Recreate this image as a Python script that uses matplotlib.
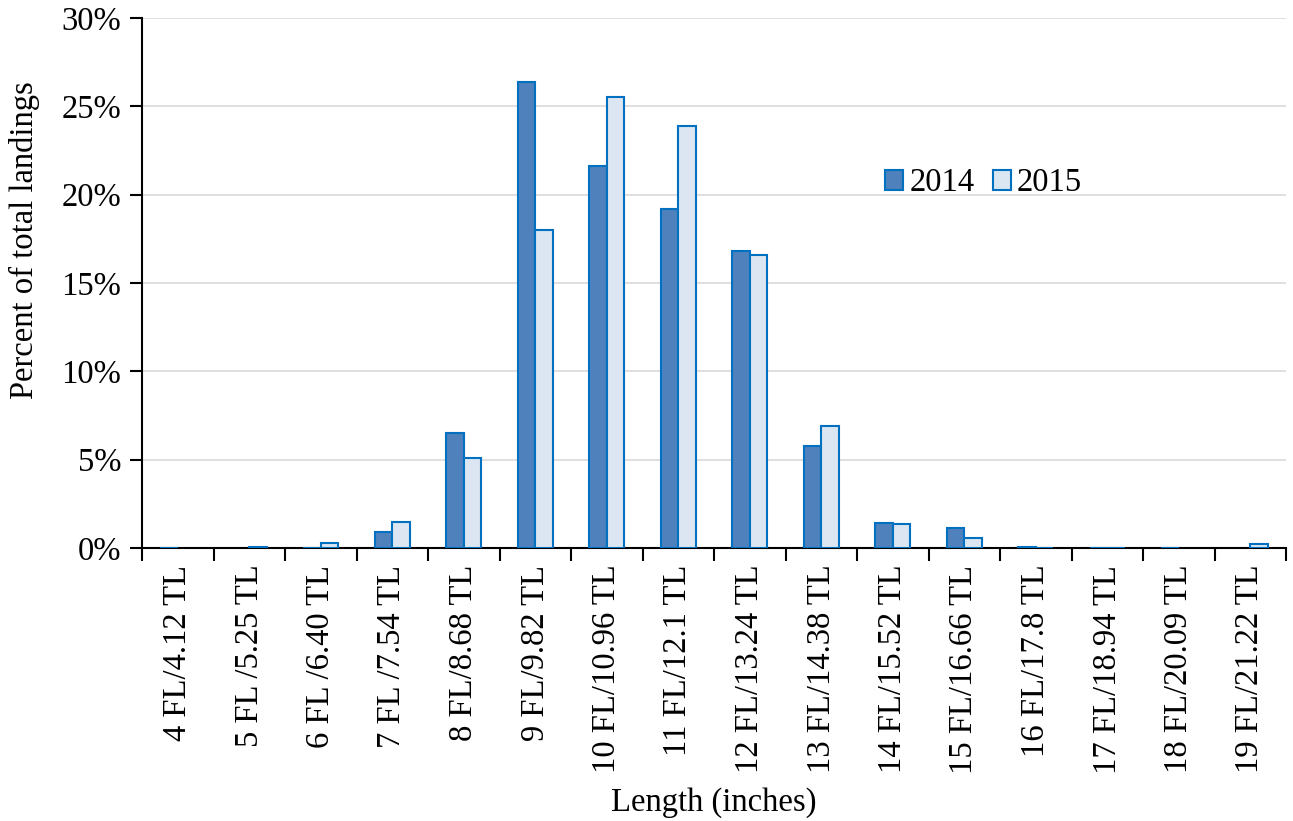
import matplotlib
matplotlib.use("Agg")
import matplotlib.pyplot as plt
import numpy as np
from matplotlib.ticker import FuncFormatter

plt.rcParams['font.family'] = ['Liberation Serif', 'DejaVu Serif']

categories = ["4 FL/4.12 TL", "5 FL /5.25 TL", "6 FL /6.40 TL", "7 FL /7.54 TL",
              "8 FL/8.68 TL", "9 FL/9.82 TL", "10 FL/10.96 TL", "11 FL/12.1 TL",
              "12 FL/13.24 TL", "13 FL/14.38 TL", "14 FL/15.52 TL", "15 FL/16.66 TL",
              "16 FL/17.8 TL", "17 FL/18.94 TL", "18 FL/20.09 TL", "19 FL/21.22 TL"]
values_2014 = [0.02, 0.0, 0.02, 0.9, 6.5, 26.4, 21.6, 19.2, 16.8, 5.8, 1.4, 1.15, 0.05, 0.02, 0.02, 0.0]
values_2015 = [0.0, 0.05, 0.3, 1.5, 5.1, 18.0, 25.5, 23.9, 16.6, 6.9, 1.35, 0.55, 0.02, 0.02, 0.0, 0.25]

FS = 23.5
fig = plt.figure(figsize=(12.93, 8.21), dpi=100)
ax = fig.add_axes([142/1293, 1-548/821, (1286-142)/1293, (548-18)/821])

x = np.arange(len(categories))
w = 0.245
v14 = np.array(values_2014, dtype=float)
v15 = np.array(values_2015, dtype=float)
ax.bar(x - w/2, np.where(v14 > 0, v14, np.nan), width=w, color='#4F81BD', edgecolor='#0070C0',
       linewidth=1.5, label='2014', zorder=3)
ax.bar(x + w/2, np.where(v15 > 0, v15, np.nan), width=w, color='#DCE6F2', edgecolor='#0070C0',
       linewidth=1.5, label='2015', zorder=3)

ax.set_xlim(-0.5, len(categories) - 0.5)
ax.set_ylim(0, 30)
ax.set_yticks(np.arange(0, 31, 5))
ax.yaxis.set_major_formatter(FuncFormatter(lambda v, p: f"{int(v)}%"))
ax.yaxis.grid(True, color='#D9D9D9', linewidth=1.2, zorder=0)
ax.set_axisbelow(True)

ax.set_xticks(x)
ax.set_xticklabels(categories, rotation=90, fontsize=FS)
ax.tick_params(axis='x', which='major', length=0, pad=12)
ax.set_xticks(np.arange(-0.5, len(categories), 1), minor=True)
ax.tick_params(axis='x', which='minor', length=9, width=1.5, direction='out', color='black')
ax.tick_params(axis='y', length=9, width=1.5, direction='out', labelsize=FS, pad=6)

for s in ['top', 'right']:
    ax.spines[s].set_visible(False)
for s in ['left', 'bottom']:
    ax.spines[s].set_linewidth(1.5)
    ax.spines[s].set_color('black')

ax.set_ylabel('Percent of total landings', fontsize=FS)
ax.yaxis.set_label_coords(-0.089, 0.581)
ax.set_xlabel('Length (inches)', fontsize=FS, labelpad=10)

leg = ax.legend(loc='upper left', bbox_to_anchor=(0.6495, 0.717), ncol=2, frameon=False,
                fontsize=FS, handlelength=0.55, handleheight=0.55, handletextpad=0.2,
                columnspacing=0.55, borderaxespad=0, borderpad=0)

fig.savefig('out.png', dpi=100)
